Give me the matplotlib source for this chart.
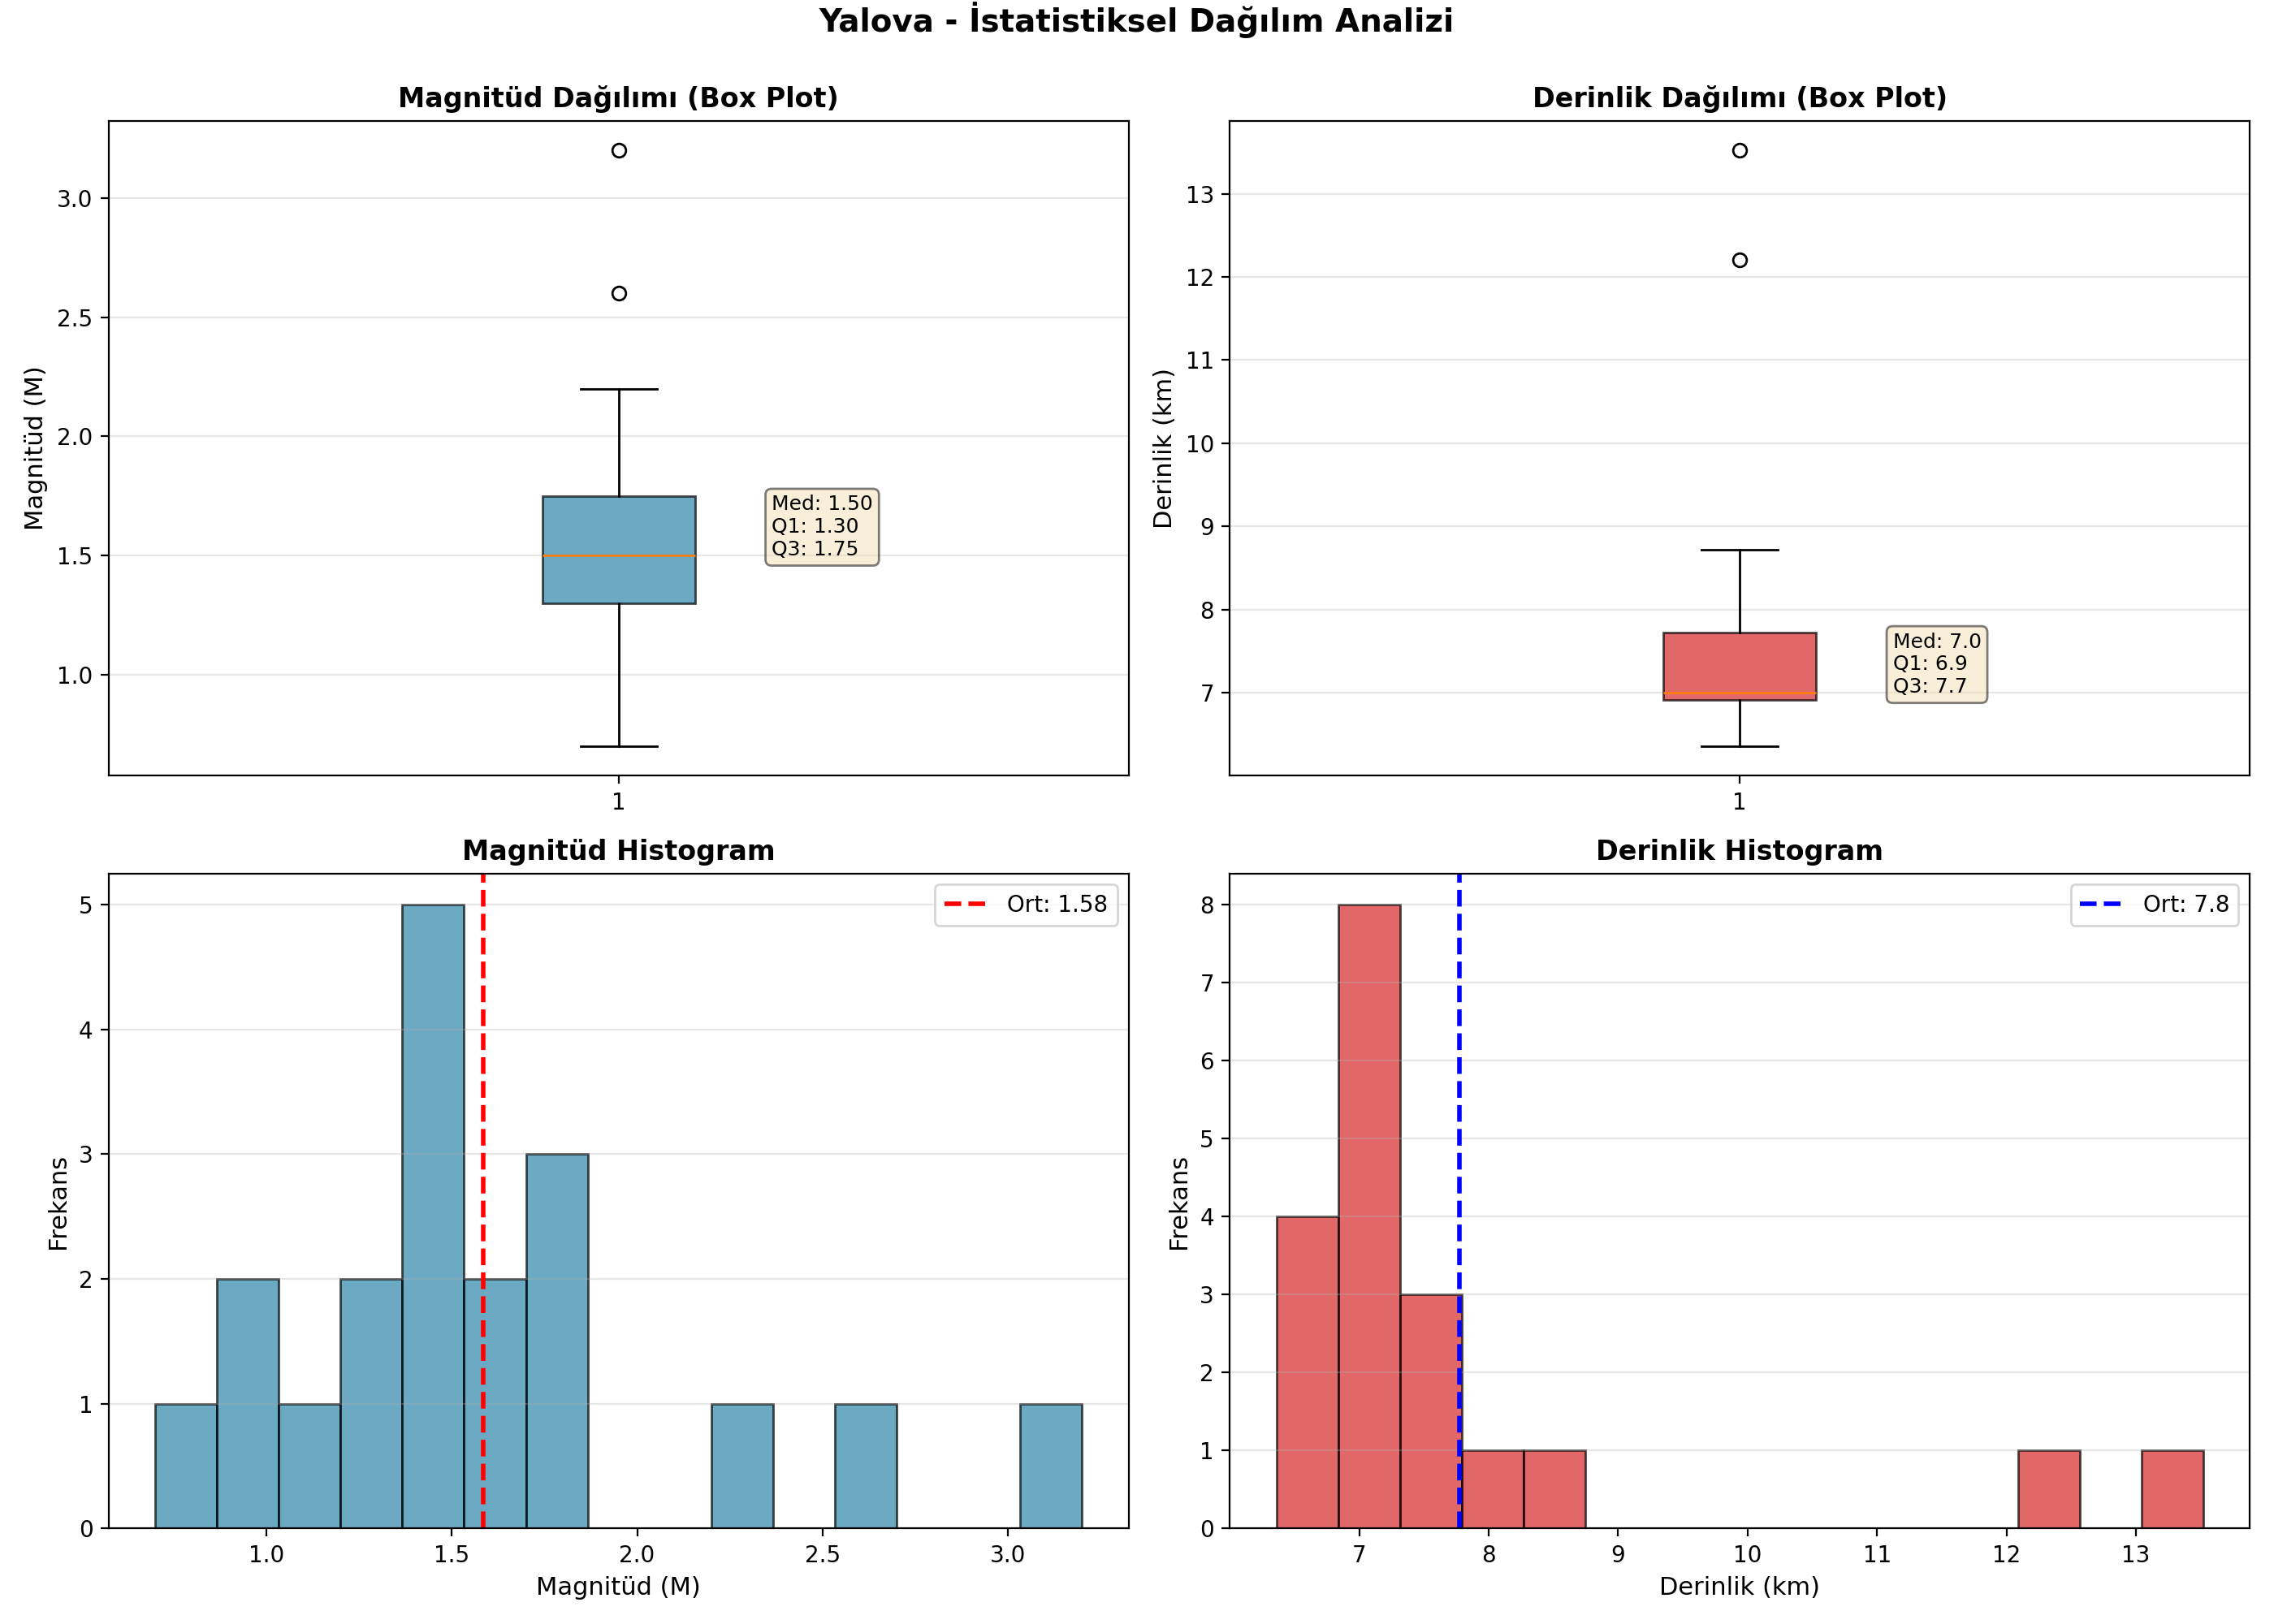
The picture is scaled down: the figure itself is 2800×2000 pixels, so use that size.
import matplotlib
matplotlib.use("Agg")
import matplotlib.pyplot as plt
import numpy as np

city = "Yalova"
magnitudes = [0.7, 0.9, 1.0, 1.1, 1.3, 1.3, 1.4, 1.4, 1.5, 1.5, 1.5, 1.6, 1.6,
              1.7, 1.8, 1.8, 2.2, 2.6, 3.2]
depths = [6.36, 6.5, 6.6, 6.8, 6.9, 6.93, 7.0, 7.0, 7.0, 7.0, 7.1, 7.2, 7.4,
          7.7, 7.75, 8.0, 8.72, 12.2, 13.52]

mag_color = '#2E86AB'
dep_color = '#d62728'

fig, axes = plt.subplots(2, 2, figsize=(14, 10), dpi=200)
st = fig.suptitle(f'{city} - İstatistiksel Dağılım Analizi', fontsize=14, fontweight='bold')

def box(ax, data, color, title, ylabel, fmt):
    bp = ax.boxplot(data, patch_artist=True)
    bp['boxes'][0].set_facecolor(color)
    bp['boxes'][0].set_alpha(0.7)
    ax.set_title(title, fontsize=12, fontweight='bold')
    ax.set_ylabel(ylabel, fontsize=11)
    ax.grid(True, alpha=0.3, axis='y')
    q1, med, q3 = np.percentile(data, [25, 50, 75])
    ax.text(1.15, med, f'Med: {med:{fmt}}\nQ1: {q1:{fmt}}\nQ3: {q3:{fmt}}',
            fontsize=9, bbox=dict(boxstyle='round', facecolor='wheat', alpha=0.5))

def hist(ax, data, color, title, xlabel, line_color, fmt):
    ax.hist(data, bins=15, color=color, alpha=0.7, edgecolor='black')
    m = np.mean(data)
    ax.axvline(m, color=line_color, linestyle='--', linewidth=2, label=f'Ort: {m:{fmt}}')
    ax.set_title(title, fontsize=12, fontweight='bold')
    ax.set_xlabel(xlabel, fontsize=11)
    ax.set_ylabel('Frekans', fontsize=11)
    ax.legend(loc='upper right')
    ax.grid(True, alpha=0.3, axis='y')

box(axes[0, 0], magnitudes, mag_color, 'Magnitüd Dağılımı (Box Plot)', 'Magnitüd (M)', '.2f')
box(axes[0, 1], depths, dep_color, 'Derinlik Dağılımı (Box Plot)', 'Derinlik (km)', '.1f')
hist(axes[1, 0], magnitudes, mag_color, 'Magnitüd Histogram', 'Magnitüd (M)', 'red', '.2f')
hist(axes[1, 1], depths, dep_color, 'Derinlik Histogram', 'Derinlik (km)', 'blue', '.1f')

plt.tight_layout()
st.set_y(0.999)
plt.savefig('out.png', dpi=200)
